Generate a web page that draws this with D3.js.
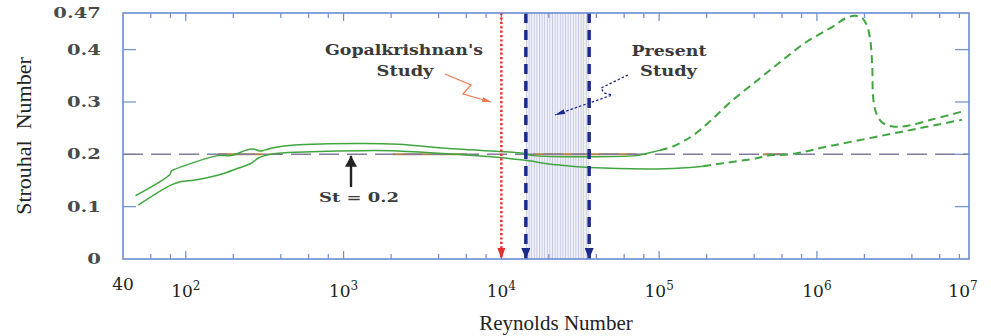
<!DOCTYPE html>
<html>
<head>
<meta charset="utf-8">
<script src="https://cdn.jsdelivr.net/npm/d3@7"></script>
<style>
  html, body { margin: 0; padding: 0; background: #fff; }
  svg { display: block; }
</style>
</head>
<body>
<div id="chart"></div>
<script>
// values (Re, St)
const upperSolid = [
  [48, 0.121], [79, 0.161], [81, 0.168], [83, 0.170], [160, 0.1975], [193, 0.1975],
  [242, 0.208], [267, 0.210], [294, 0.2065], [316, 0.208], [366, 0.213], [490, 0.218],
  [796, 0.220], [1289, 0.2205], [2212, 0.219], [5210, 0.210], [13770, 0.202],
  [16000, 0.1975], [72000, 0.1975], [78900, 0.200], [101000, 0.2075]
];
const upperDashed = [
  [101000, 0.2075], [122000, 0.215], [142000, 0.2247], [164000, 0.236], [201000, 0.258],
  [294000, 0.304], [436000, 0.3455], [609000, 0.3805], [865000, 0.4155], [1.26e6, 0.444],
  [1.5e6, 0.459], [1.72e6, 0.4646], [1.92e6, 0.4615], [2.06e6, 0.448], [2.17e6, 0.422],
  [2.24e6, 0.37], [2.28e6, 0.304], [2.4e6, 0.2753], [2.62e6, 0.2595], [3.03e6, 0.253],
  [3.72e6, 0.2543], [5.44e6, 0.267], [8.3e6, 0.2816]
];
const lowerSolid = [
  [50, 0.103], [81, 0.1415], [94, 0.148], [114, 0.151], [168, 0.162], [214, 0.1734],
  [260, 0.183], [287, 0.1925], [316, 0.1975], [384, 0.202], [624, 0.205], [1289, 0.207],
  [2212, 0.2065], [5210, 0.200], [9800, 0.1937], [13700, 0.189], [22400, 0.180],
  [36400, 0.1746], [96400, 0.172], [157000, 0.1746], [190000, 0.177]
];
const lowerDashed = [
  [190000, 0.177], [254000, 0.183], [415000, 0.1925], [480000, 0.1975], [675000, 0.200],
  [1.26e6, 0.217], [3.72e6, 0.245], [8.3e6, 0.266]
];
// where the curves run along St = 0.2 (shows brownish under the dashed line)
const overlapRanges = [[160, 308], [2056, 6055], [16000, 72000], [455000, 630000]];

const stLine = 0.2;
const gopalRe = 1e4;
const presentRange = [1.43e4, 3.6e4];

const yTicks = [0.1, 0.2, 0.3, 0.4];
const yLabelValues = [0, 0.1, 0.2, 0.3, 0.4, 0.47];
const yLabels = ["0", "0.1", "0.2", "0.3", "0.4", "0.47"];
const xMajor = [1e2, 1e3, 1e4, 1e5, 1e6];
const xMinor = [60, 80, 200, 400, 600, 800, 2e3, 4e3, 6e3, 8e3, 2e4, 4e4, 6e4, 8e4,
  2e5, 4e5, 6e5, 8e5, 2e6, 4e6, 6e6, 8e6];
const xLabelValues = [40, 1e2, 1e3, 1e4, 1e5, 1e6, 1e7];

const width = 991, height = 336;
const pLeft = 123, pRight = 969, pTop = 13, pBottom = 259;
const axisColor = "#6d8bd3";
const green = "#3fa63f";

const svg = d3.select("#chart").append("svg")
  .attr("width", width).attr("height", height);

const x = d3.scaleLog().domain([40, 9.2e6]).range([pLeft, pRight]);
const y = d3.scaleLinear().domain([0, 0.47]).range([pBottom, pTop]);

const defs = svg.append("defs");
const pat = defs.append("pattern")
  .attr("id", "hatch").attr("patternUnits", "userSpaceOnUse")
  .attr("width", 2.6).attr("height", 10);
pat.append("rect").attr("width", 2.6).attr("height", 10).attr("fill", "#f1f1f9");
pat.append("line").attr("x1", 1.3).attr("x2", 1.3).attr("y1", 0).attr("y2", 10)
  .attr("stroke", "#bfbfe0").attr("stroke-width", 0.8);

function arrowMarker(id, color, w, h) {
  defs.append("marker")
    .attr("id", id).attr("markerUnits", "userSpaceOnUse")
    .attr("viewBox", `0 0 ${h} ${w}`)
    .attr("refX", h).attr("refY", w / 2)
    .attr("markerWidth", h).attr("markerHeight", w)
    .attr("orient", "auto")
    .append("path").attr("d", `M0,0L${h},${w / 2}L0,${w}Z`).attr("fill", color);
}
arrowMarker("redHead", "#e8302a", 8, 11);
arrowMarker("blueHead", "#1c2a8c", 9, 11);
arrowMarker("orangeHead", "#f07850", 5, 9);
arrowMarker("navyHead", "#1c2a8c", 5, 10);
arrowMarker("blackHead", "#222", 12, 11);

// shaded band of present study
svg.append("rect")
  .attr("x", x(presentRange[0])).attr("y", pTop)
  .attr("width", x(presentRange[1]) - x(presentRange[0]))
  .attr("height", pBottom - pTop)
  .attr("fill", "url(#hatch)");

// ticks
const tickG = svg.append("g").attr("stroke", axisColor).attr("stroke-width", 1.2);
function xTicks(vals, len) {
  vals.forEach(v => {
    tickG.append("line").attr("x1", x(v)).attr("x2", x(v)).attr("y1", pBottom).attr("y2", pBottom - len);
    tickG.append("line").attr("x1", x(v)).attr("x2", x(v)).attr("y1", pTop).attr("y2", pTop + len);
  });
}
xTicks(xMajor, 8);
xTicks(xMinor, 5);
yTicks.forEach(v => {
  tickG.append("line").attr("x1", pLeft).attr("x2", pLeft + 13).attr("y1", y(v)).attr("y2", y(v));
  tickG.append("line").attr("x1", pRight).attr("x2", pRight - 14).attr("y1", y(v)).attr("y2", y(v));
});

// brownish under-segments where curves sit on 0.2
svg.append("g").selectAll("line").data(overlapRanges).enter().append("line")
  .attr("x1", d => x(d[0])).attr("x2", d => x(d[1]))
  .attr("y1", y(stLine)).attr("y2", y(stLine))
  .attr("stroke", "#b3844a").attr("stroke-width", 2);

// St = 0.2 dashed reference
svg.append("line")
  .attr("x1", pLeft).attr("x2", pRight).attr("y1", y(stLine)).attr("y2", y(stLine))
  .attr("stroke", "#827c9a").attr("stroke-width", 1.5)
  .attr("stroke-dasharray", "20,8");

// curves
const line = d3.line().x(d => x(d[0])).y(d => y(d[1])).curve(d3.curveCatmullRom.alpha(0.5));
[upperSolid, lowerSolid].forEach(data => {
  svg.append("path").datum(data).attr("d", line)
    .attr("fill", "none").attr("stroke", green).attr("stroke-width", 1.5);
});
[upperDashed, lowerDashed].forEach(data => {
  svg.append("path").datum(data).attr("d", line)
    .attr("fill", "none").attr("stroke", green).attr("stroke-width", 2)
    .attr("stroke-dasharray", "8,5");
});

// vertical markers
svg.append("line")
  .attr("x1", x(gopalRe)).attr("x2", x(gopalRe)).attr("y1", pTop).attr("y2", pBottom)
  .attr("stroke", "#e8302a").attr("stroke-width", 2.5)
  .attr("stroke-dasharray", "2.2,2.2")
  .attr("marker-end", "url(#redHead)");
presentRange.forEach(v => {
  svg.append("line")
    .attr("x1", x(v)).attr("x2", x(v)).attr("y1", pTop).attr("y2", pBottom)
    .attr("stroke", "#1c2a8c").attr("stroke-width", 3.5)
    .attr("stroke-dasharray", "10,7")
    .attr("marker-end", "url(#blueHead)");
});

// frame
svg.append("rect")
  .attr("x", pLeft).attr("y", pTop).attr("width", pRight - pLeft).attr("height", pBottom - pTop)
  .attr("fill", "none").attr("stroke", axisColor).attr("stroke-width", 1.6);

// squiggle pointers
const squig = d3.line().curve(d3.curveLinear);
svg.append("path")
  .attr("d", squig([[445, 74], [471, 85], [463, 94], [491, 102]]))
  .attr("fill", "none").attr("stroke", "#f07850").attr("stroke-width", 1.2)
  .attr("marker-end", "url(#orangeHead)");
svg.append("path")
  .attr("d", squig([[628, 75], [601, 88], [604, 93], [612, 95], [555, 115]]))
  .attr("fill", "none").attr("stroke", "#1c2a8c").attr("stroke-width", 1.3)
  .attr("stroke-dasharray", "2.5,2")
  .attr("marker-end", "url(#navyHead)");

// St = 0.2 pointer
svg.append("line")
  .attr("x1", 351).attr("x2", 351).attr("y1", 187).attr("y2", y(stLine) + 1.5)
  .attr("stroke", "#222").attr("stroke-width", 2.4)
  .attr("marker-end", "url(#blackHead)");

// annotation texts
const annFont = "'DejaVu Serif', serif";
function stretched(txt, cx, base, len, size) {
  svg.append("text")
    .attr("x", cx - len / 2).attr("y", base)
    .attr("textLength", len).attr("lengthAdjust", "spacingAndGlyphs")
    .attr("font-family", annFont).attr("font-weight", "bold")
    .attr("font-size", size).attr("fill", "#3a3a3a")
    .text(txt);
}
stretched("Gopalkrishnan's", 404, 55, 158, 14);
stretched("Study", 405, 76, 57, 14);
stretched("Present", 669, 56, 75, 14);
stretched("Study", 668.5, 76, 57, 14);
stretched("St = 0.2", 359, 202, 80, 13);

// y tick labels
yLabelValues.forEach((v, i) => {
  svg.append("text")
    .attr("transform", `translate(101,${y(v) + 5}) scale(1.4,1)`)
    .attr("text-anchor", "end")
    .attr("font-family", annFont).attr("font-weight", "bold")
    .attr("font-size", 14).attr("fill", "#4a4a4a")
    .text(yLabels[i]);
});

// x tick labels
xLabelValues.forEach(v => {
  const cx = Math.min(x(v), 963);
  const t = svg.append("text")
    .attr("x", cx).attr("y", v === 40 ? 290 : 297)
    .attr("text-anchor", "middle")
    .attr("font-family", annFont)
    .attr("font-size", 17).attr("fill", "#222");
  if (v === 40) {
    t.text("40");
  } else {
    t.append("tspan").text("10");
    t.append("tspan").attr("dy", -7).attr("font-size", 12).text(Math.round(Math.log10(v)));
  }
});

// axis titles
svg.append("text")
  .attr("transform", "translate(31,136) rotate(-90)")
  .attr("text-anchor", "middle")
  .attr("font-family", "'Liberation Serif', serif")
  .attr("font-size", 22).attr("fill", "#222")
  .attr("xml:space", "preserve")
  .text("Strouhal  Number");
svg.append("text")
  .attr("x", 556).attr("y", 330)
  .attr("text-anchor", "middle")
  .attr("font-family", "'Liberation Serif', serif")
  .attr("font-size", 21).attr("fill", "#222")
  .text("Reynolds Number");
</script>
</body>
</html>
